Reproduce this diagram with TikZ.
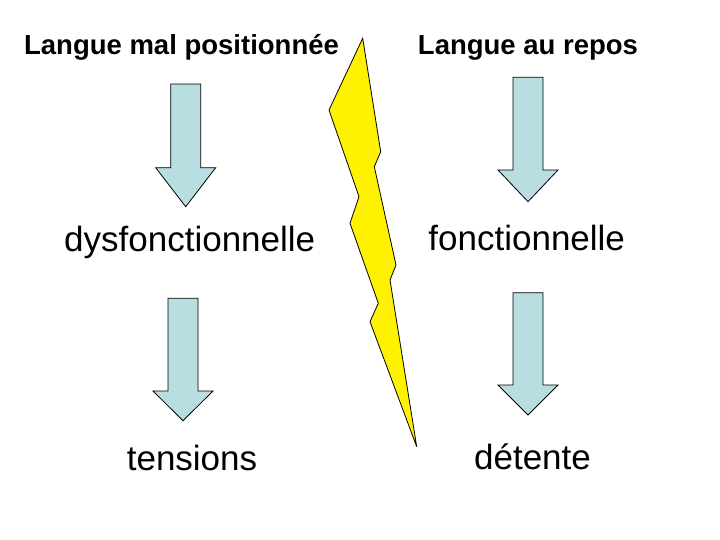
\documentclass[tikz,border=0pt]{standalone}
\usepackage{fontspec}
\setmainfont{Liberation Sans}
\definecolor{arrowblue}{RGB}{185,222,225}

% block arrow pointing down: centre x, top of shaft, base of head, tip
\newcommand{\blockdown}[4]{%
    \filldraw[fill=arrowblue, draw=black, line width=0.8pt, line join=miter]
        (#1-15,#2) -- (#1+15,#2) -- (#1+15,#3) -- (#1+30,#3) -- (#1,#4)
        -- (#1-30,#3) -- (#1-15,#3) -- cycle;}

\begin{document}
\begin{tikzpicture}[x=1pt, y=-1pt]
    \useasboundingbox (0,0) rectangle (720,540);

    \tikzset{title/.style={anchor=base, font=\fontsize{27.5}{32}\selectfont\bfseries, inner sep=0pt},
             word/.style={anchor=base, font=\fontsize{35}{40}\selectfont, inner sep=0pt}}

    % headings
    \node[title] (mal) at (181.5,55) {Langue mal positionnée};
    \node[title] (repos) at (528,54.5) {Langue au repos};

    % lightning bolt
    \filldraw[fill=yellow, draw=black, line width=0.8pt, line join=miter]
        (362.7,38.3) -- (380.7,151.7) -- (374.3,166.7) -- (396,265) -- (390,280)
        -- (416.7,446.7) -- (370,321.7) -- (378.3,303.3) -- (350,223.3)
        -- (359,196.7) -- (329,110) -- cycle;

    \blockdown{185.7}{84}{167.7}{206.7} %upper left
    \blockdown{528}{77.3}{170}{201.7} %upper right

    \node[word] (dys) at (189.7,251.5) {dysfonctionnelle};
    \node[word] (fonc) at (526.7,250.5) {fonctionnelle};

    \blockdown{183}{298.3}{391}{420.7} %lower left
    \blockdown{528}{292.7}{385}{415} %lower right

    \node[word] (tens) at (192,470) {tensions};
    \node[word] (det) at (532.5,469.5) {détente};
\end{tikzpicture}
\end{document}
